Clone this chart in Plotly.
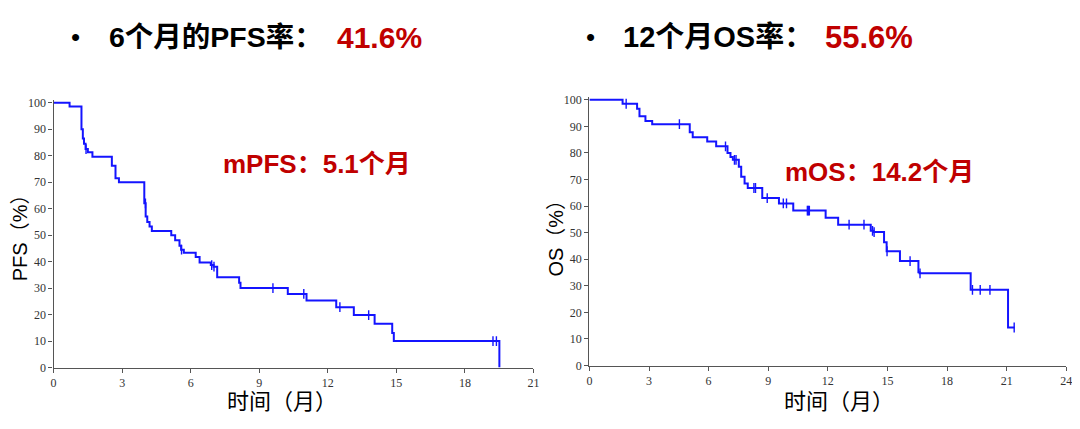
import plotly.graph_objects as go

# ---------------- data ----------------
pfs_time = [0, 0.70, 1.22, 1.28, 1.33, 1.40, 1.50, 1.70, 2.55, 2.71, 2.86, 3.97, 4.03, 4.10, 4.20, 4.30,
            5.15, 5.32, 5.51, 5.58, 5.70, 6.22, 6.39, 6.88, 7.00, 7.16, 8.12, 8.18, 10.25, 11.07,
            12.37, 13.14, 14.05, 14.82, 14.89, 19.51]
pfs_surv = [100, 98.6, 90, 86.5, 84.5, 82.5, 81.3, 79.6, 76.2, 71.5, 70.0, 62.0, 57.0, 55.0, 53.3, 51.6,
            50.0, 48.1, 46.0, 44.5, 43.3, 41.7, 39.7, 38.7, 38.1, 34.1, 32.0, 30.0, 27.8, 25.3,
            22.8, 19.8, 16.5, 13.0, 10.0, 0]
pfs_censor = [1.42, 4.02, 5.60, 6.92, 7.02, 9.60, 10.95, 12.53, 13.79, 19.23, 19.38]

os_time = [0, 1.67, 2.40, 2.52, 2.82, 3.16, 5.05, 5.20, 5.93, 6.38, 6.95, 7.10, 7.22, 7.52, 7.64, 7.81,
           7.97, 8.70, 9.54, 10.26, 11.89, 12.52, 14.16, 14.30, 14.83, 14.96, 15.63, 16.56, 16.62,
           19.19, 21.07, 21.40]
os_surv = [100, 98.5, 96.6, 93.8, 92.0, 90.8, 87.8, 85.9, 84.3, 82.5, 80.0, 78.5, 77.4, 74.8, 71.0, 68.5,
           66.8, 63.0, 61.0, 58.3, 55.6, 53.0, 50.7, 50.2, 46.4, 43.0, 39.3, 35.1, 34.7,
           28.5, 14.3, 14.3]
os_censor = [1.85, 4.53, 6.85, 7.30, 7.38, 8.28, 8.36, 8.95, 9.76, 9.92, 10.97, 11.02, 11.07,
             13.07, 13.82, 14.25, 14.33, 14.98, 16.14, 16.64, 19.28, 19.67, 20.16, 21.38]

pfs_xticks = [0, 3, 6, 9, 12, 15, 18, 21]
os_xticks = [0, 3, 6, 9, 12, 15, 18, 21, 24]
yticks = [0, 10, 20, 30, 40, 50, 60, 70, 80, 90, 100]

title_left = "6个月的PFS率："
value_left = "41.6%"
title_right = "12个月OS率："
value_right = "55.6%"
median_left = "mPFS：5.1个月"
median_right = "mOS：14.2个月"
xlabel = "时间（月）"
ylabel_left = "PFS（%）"
ylabel_right = "OS（%）"

# ---------------- helpers ----------------
def step_value(times, surv, t):
    v = surv[0]
    for tt, s in zip(times, surv):
        if tt <= t:
            v = s
        else:
            break
    return v

W, H = 1080, 429
BLUE = "#1414ff"
RED = "#C00000"
SANS = "Liberation Sans, Arial, Noto Sans CJK SC, sans-serif"
SERIF = "Liberation Serif, Times New Roman, serif"

# empirical mapping of target screen pixels to paper fractions
def px_x(x):
    return ((x - 10.4) / 0.992) / W

def px_y(y):
    return 1 - ((y - 10.8) / 0.979) / H

fig = go.Figure()

mk = dict(symbol="line-ns", size=7, line=dict(color=BLUE, width=1.4))
fig.add_trace(go.Scatter(x=pfs_time, y=pfs_surv, mode="lines", line=dict(color=BLUE, width=2, shape="hv"),
                         xaxis="x", yaxis="y", showlegend=False, hoverinfo="skip"))
fig.add_trace(go.Scatter(x=pfs_censor, y=[step_value(pfs_time, pfs_surv, t) for t in pfs_censor],
                         mode="markers", marker=mk, xaxis="x", yaxis="y", showlegend=False, hoverinfo="skip"))
fig.add_trace(go.Scatter(x=os_time, y=os_surv, mode="lines", line=dict(color=BLUE, width=2, shape="hv"),
                         xaxis="x2", yaxis="y2", showlegend=False, hoverinfo="skip"))
fig.add_trace(go.Scatter(x=os_censor, y=[step_value(os_time, os_surv, t) for t in os_censor],
                         mode="markers", marker=mk, xaxis="x2", yaxis="y2", showlegend=False, hoverinfo="skip"))

axis_common = dict(showgrid=False, zeroline=False, showline=True, linecolor="#555", linewidth=1.3,
                   ticks="outside", ticklen=4, tickwidth=1.2, tickcolor="#555",
                   tickfont=dict(family=SERIF, size=12, color="#333"))

fig.update_layout(
    xaxis=dict(domain=[px_x(53), px_x(533)], range=[0, 21], tickvals=pfs_xticks, anchor="y", **axis_common),
    yaxis=dict(domain=[px_y(368), px_y(102 - 2.66)], range=[0, 101], tickvals=yticks, anchor="x", **axis_common),
    xaxis2=dict(domain=[px_x(589), px_x(1066)], range=[0, 24], tickvals=os_xticks, anchor="y2", **axis_common),
    yaxis2=dict(domain=[px_y(366), px_y(99 - 2.67)], range=[0, 101], tickvals=yticks, anchor="x2", **axis_common),
)

annotations = [
    dict(x=px_x(75), y=px_y(36), text="•", font=dict(family=SANS, size=26, color="black"), xanchor="center"),
    dict(x=px_x(106), y=px_y(36), text="<b>" + title_left + "</b>", font=dict(family=SANS, size=28.5, color="black"), xanchor="left"),
    dict(x=px_x(335), y=px_y(36), text="<b>" + value_left + "</b>", font=dict(family=SANS, size=30, color=RED), xanchor="left"),
    dict(x=px_x(590), y=px_y(36), text="•", font=dict(family=SANS, size=26, color="black"), xanchor="center"),
    dict(x=px_x(621), y=px_y(36), text="<b>" + title_right + "</b>", font=dict(family=SANS, size=29, color="black"), xanchor="left"),
    dict(x=px_x(823), y=px_y(36), text="<b>" + value_right + "</b>", font=dict(family=SANS, size=31, color=RED), xanchor="left"),
    dict(x=px_x(220), y=px_y(164), text="<b>" + median_left + "</b>", font=dict(family=SANS, size=26, color=RED), xanchor="left"),
    dict(x=px_x(783), y=px_y(172), text="<b>" + median_right + "</b>", font=dict(family=SANS, size=26, color=RED), xanchor="left"),
    dict(x=px_x(281), y=px_y(402), text=xlabel, font=dict(family=SANS, size=22, color="black"), xanchor="center"),
    dict(x=px_x(839), y=px_y(402), text=xlabel, font=dict(family=SANS, size=22, color="black"), xanchor="center"),
    dict(x=px_x(19.5), y=px_y(233), text=ylabel_left, textangle=-90, font=dict(family=SANS, size=20, color="black"), xanchor="center"),
    dict(x=px_x(556), y=px_y(233), text=ylabel_right, textangle=-90, font=dict(family=SANS, size=20, color="black"), xanchor="center"),
]
for a in annotations:
    a.update(xref="paper", yref="paper", showarrow=False, yanchor="middle")

fig.update_layout(width=W, height=H, margin=dict(l=0, r=0, t=0, b=0),
                  paper_bgcolor="white", plot_bgcolor="white", annotations=annotations)

fig.write_html("out.html")
